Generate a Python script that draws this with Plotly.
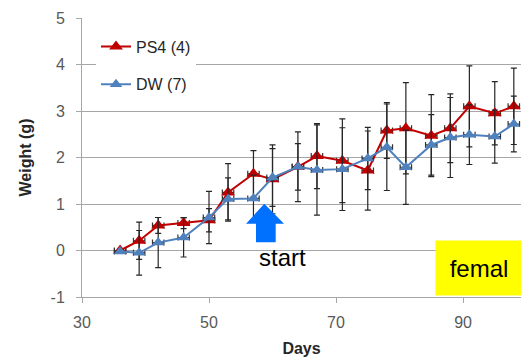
import plotly.graph_objects as go

days = [36, 39, 42, 46, 50, 53, 57, 60, 64, 67, 71, 75, 78, 81, 85, 88, 91, 95, 98]
ps4 = [0.0, 0.21, 0.54, 0.59, 0.65, 1.25, 1.65, 1.53, 1.80, 2.03, 1.93, 1.72, 2.58, 2.63, 2.47, 2.63, 3.10, 2.95, 3.10]
dw = [-0.02, -0.05, 0.17, 0.28, 0.71, 1.11, 1.12, 1.57, 1.80, 1.73, 1.75, 1.98, 2.22, 1.79, 2.27, 2.43, 2.49, 2.45, 2.72]
ps4_err = [0.02, 0.40, 0.17, 0.12, 0.25, 0.62, 0.50, 0.74, 0.50, 0.70, 0.90, 0.85, 0.60, 0.98, 0.88, 0.74, 0.87, 0.68, 0.82]
dw_err = [0.03, 0.48, 0.54, 0.42, 0.56, 0.45, 0.50, 0.62, 0.75, 0.97, 0.89, 0.67, 0.93, 0.80, 0.65, 0.86, 0.64, 0.57, 0.60]
day_err = 0.9
y_ticks = [-1, 0, 1, 2, 3, 4, 5]
y_tick_text = ["-1", "0", "1", "2", "3", "4", "5"]
x_ticks = [30, 50, 70, 90]

FONT = "Arial, Liberation Sans, sans-serif"
RED = "#C00000"
BLUE = "#4F81BD"
GRID = "#A6A6A6"

fig = go.Figure()
fig.add_trace(go.Scatter(
    x=days, y=ps4, name="PS4 (4)", mode="lines+markers", legendgroup="a",
    line=dict(color=RED, width=2),
    marker=dict(symbol="triangle-up", size=12, color=RED),
    error_y=dict(type="data", array=ps4_err, color="#262626", thickness=1.2, width=3),
    error_x=dict(type="constant", value=day_err, color="#333333", thickness=1.2, width=3),
))
fig.add_trace(go.Scatter(
    x=days, y=dw, name="DW (7)", mode="lines+markers", legendgroup="b",
    line=dict(color=BLUE, width=2),
    marker=dict(symbol="triangle-up", size=11, color=BLUE),
    error_y=dict(type="data", array=dw_err, color="#262626", thickness=1.2, width=3),
    error_x=dict(type="constant", value=day_err, color="#333333", thickness=1.2, width=3),
))

# start arrow (block arrow)
arrow_path = ("M 58.71 1.004 L 61.81 0.574 L 60.50 0.574 L 60.50 0.178 "
              "L 57.40 0.178 L 57.40 0.574 L 55.83 0.574 Z")
fig.add_shape(type="path", path=arrow_path, xref="x", yref="y",
              fillcolor="#0070FF", line=dict(width=0), layer="above")

# white mask behind legend over the y=4 gridline
fig.add_shape(type="rect", xref="paper", yref="y", x0=0.003, x1=(217 - 82) / 439,
              y0=3.6, y1=4.4, fillcolor="white", line=dict(width=0), layer="between")

fig.add_annotation(x=61.5, y=-0.15, xref="x", yref="y", text="start", showarrow=False,
                   xanchor="center", yanchor="middle",
                   font=dict(family=FONT, size=24, color="#000000"))
fig.add_annotation(x=(479 - 82) / 439, y=(297.5 - 268) / 279, xref="paper", yref="paper",
                   text="femal", showarrow=False, bgcolor="#FFFF00", width=84, height=52,
                   xanchor="center", yanchor="middle",
                   font=dict(family=FONT, size=24, color="#000000"))

fig.update_layout(
    width=521, height=359,
    margin=dict(l=82, r=0, t=18, b=62),
    paper_bgcolor="white", plot_bgcolor="white",
    font=dict(family=FONT, size=16, color="#595959"),
    showlegend=True,
    legend=dict(x=(96 - 82) / 439, y=(297.5 - 30) / 279, xanchor="left", yanchor="top",
                bgcolor="white", borderwidth=0, traceorder="grouped", tracegroupgap=14,
                font=dict(family=FONT, size=16, color="#262626"), itemwidth=30),
    xaxis=dict(range=[30, 99.13], tickvals=x_ticks, showgrid=False,
               showline=True, linecolor=GRID, linewidth=1, ticks="outside", ticklen=5,
               tickcolor=GRID, zeroline=False, ticklabelstandoff=6,
               title=dict(text="<b>Days</b>", font=dict(family=FONT, size=16, color="#262626"),
                          standoff=12)),
    yaxis=dict(range=[-1, 5], tickvals=y_ticks, ticktext=y_tick_text, showgrid=True,
               gridcolor=GRID, gridwidth=1,
               showline=True, linecolor=GRID, linewidth=1, ticks="outside", ticklen=5,
               tickcolor=GRID, zeroline=False, ticklabelstandoff=8,
               title=dict(text="<b>Weight (g)</b>", font=dict(family=FONT, size=16, color="#262626"),
                          standoff=14)),
)

fig.write_html("out.html")
